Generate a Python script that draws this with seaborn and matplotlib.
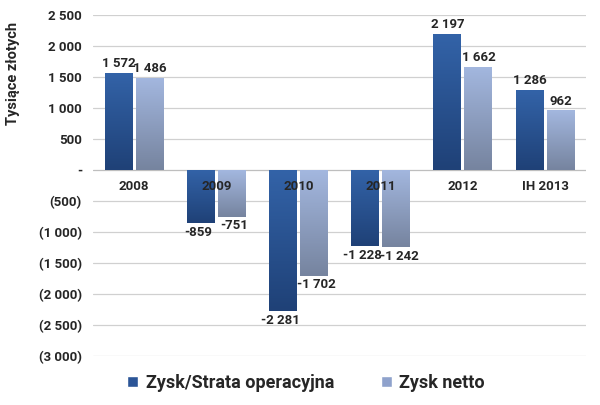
import numpy as np
import pandas as pd
import matplotlib
matplotlib.use("Agg")
import matplotlib.pyplot as plt
import seaborn as sns
from matplotlib.colors import LinearSegmentedColormap
from matplotlib.patches import Patch

categories = ["2008", "2009", "2010", "2011", "2012", "IH 2013"]
series_names = ["Zysk/Strata operacyjna", "Zysk netto"]
operating = [1572, -859, -2281, -1228, 2197, 1286]
net = [1486, -751, -1702, -1242, 1662, 962]
yticks = [2500, 2000, 1500, 1000, 500, 0, -500, -1000, -1500, -2000, -2500, -3000]

def fmt(v):
    s = f"{abs(v):,}".replace(",", " ")
    if v == 0:
        return "-"
    return s if v > 0 else f"({s})"

def fmt_val(v):
    s = f"{abs(v):,}".replace(",", " ")
    return s if v >= 0 else "-" + s

df = pd.DataFrame({
    "cat": categories * 2,
    "series": [series_names[0]] * 6 + [series_names[1]] * 6,
    "value": operating + net,
})

sns.set_theme(style="white")
plt.rcParams['font.family'] = ['Roboto', 'DejaVu Sans']
plt.rcParams['font.weight'] = 'bold'

fig = plt.figure(figsize=(6, 4.05), dpi=100)
ax = fig.add_axes([0.155, 0.121, 0.822, 0.842])

grads = {
    series_names[0]: ("#1F4177", "#3363A8"),
    series_names[1]: ("#76849F", "#A3B7DF"),
}
legend_cols = {series_names[0]: "#2B5597", series_names[1]: "#8FA2CC"}

sns.barplot(data=df, x="cat", y="value", hue="series", order=categories,
            hue_order=series_names, palette=legend_cols, width=0.754,
            gap=0.1, ax=ax, legend=False, zorder=3)

FS = 9.5
ax.set_ylim(-3000, 2500)
ax.set_xlim(-0.5, 5.5)
ax.set_yticks(yticks)
ax.set_yticklabels([fmt(v) for v in yticks], fontsize=FS, fontweight='bold')
ax.tick_params(axis='y', length=0, pad=8)
ax.set_xticks([])
ax.set_xlabel("")
ax.set_ylabel("Tysiące złotych", fontsize=10.5, fontweight='bold')
ax.yaxis.set_label_coords(-0.148, 0.83)
for s in ax.spines.values():
    s.set_visible(False)
for v in yticks:
    ax.axhline(v, color="#D0D0D0" if v != 0 else "#BEBEBE", lw=0.9, zorder=1)

# gradient fill for bars
for bars, name in zip(ax.containers, series_names):
    cmap = LinearSegmentedColormap.from_list(name, list(grads[name]))
    for p in bars:
        x0, y0 = p.get_x(), p.get_y()
        w, h = p.get_width(), p.get_height()
        lo, hi = min(y0, y0 + h), max(y0, y0 + h)
        grad = np.linspace(0, 1, 100).reshape(-1, 1)
        im = ax.imshow(grad, extent=[x0, x0 + w, lo, hi], origin='lower',
                       cmap=cmap, aspect='auto', zorder=4)
        im.set_clip_path(p)
        p.set_edgecolor("none")

ax.set_xlim(-0.5, 5.5)
ax.set_ylim(-3000, 2500)

# value labels
for k, (bars, vals) in enumerate(zip(ax.containers, [operating, net])):
    side = -1 if k == 0 else 1
    for p, v in zip(bars, vals):
        xc = p.get_x() + p.get_width() / 2
        if v >= 0:
            ax.annotate(fmt_val(v), (xc, v), xytext=(0, 2), textcoords="offset points",
                        ha="center", va="bottom", fontsize=FS, fontweight='bold', zorder=6)
        else:
            ax.annotate(fmt_val(v), (xc, v), xytext=(2 * side, -2), textcoords="offset points",
                        ha="center", va="top", fontsize=FS, fontweight='bold', zorder=6)

# category labels just below zero line
for i, c in enumerate(categories):
    ax.annotate(c, (i, 0), xytext=(0, -7), textcoords="offset points",
                ha="center", va="top", fontsize=FS, fontweight='bold', zorder=7)

handles = [Patch(facecolor=legend_cols[n], label=n) for n in series_names]
fig.legend(handles=handles, loc="center", bbox_to_anchor=(0.51, 0.055),
           ncol=2, frameon=False, handlelength=0.6, handleheight=0.6,
           handletextpad=0.4, columnspacing=2.6, prop={'weight': 'bold', 'size': 13})

fig.savefig("out.png", dpi=100)
